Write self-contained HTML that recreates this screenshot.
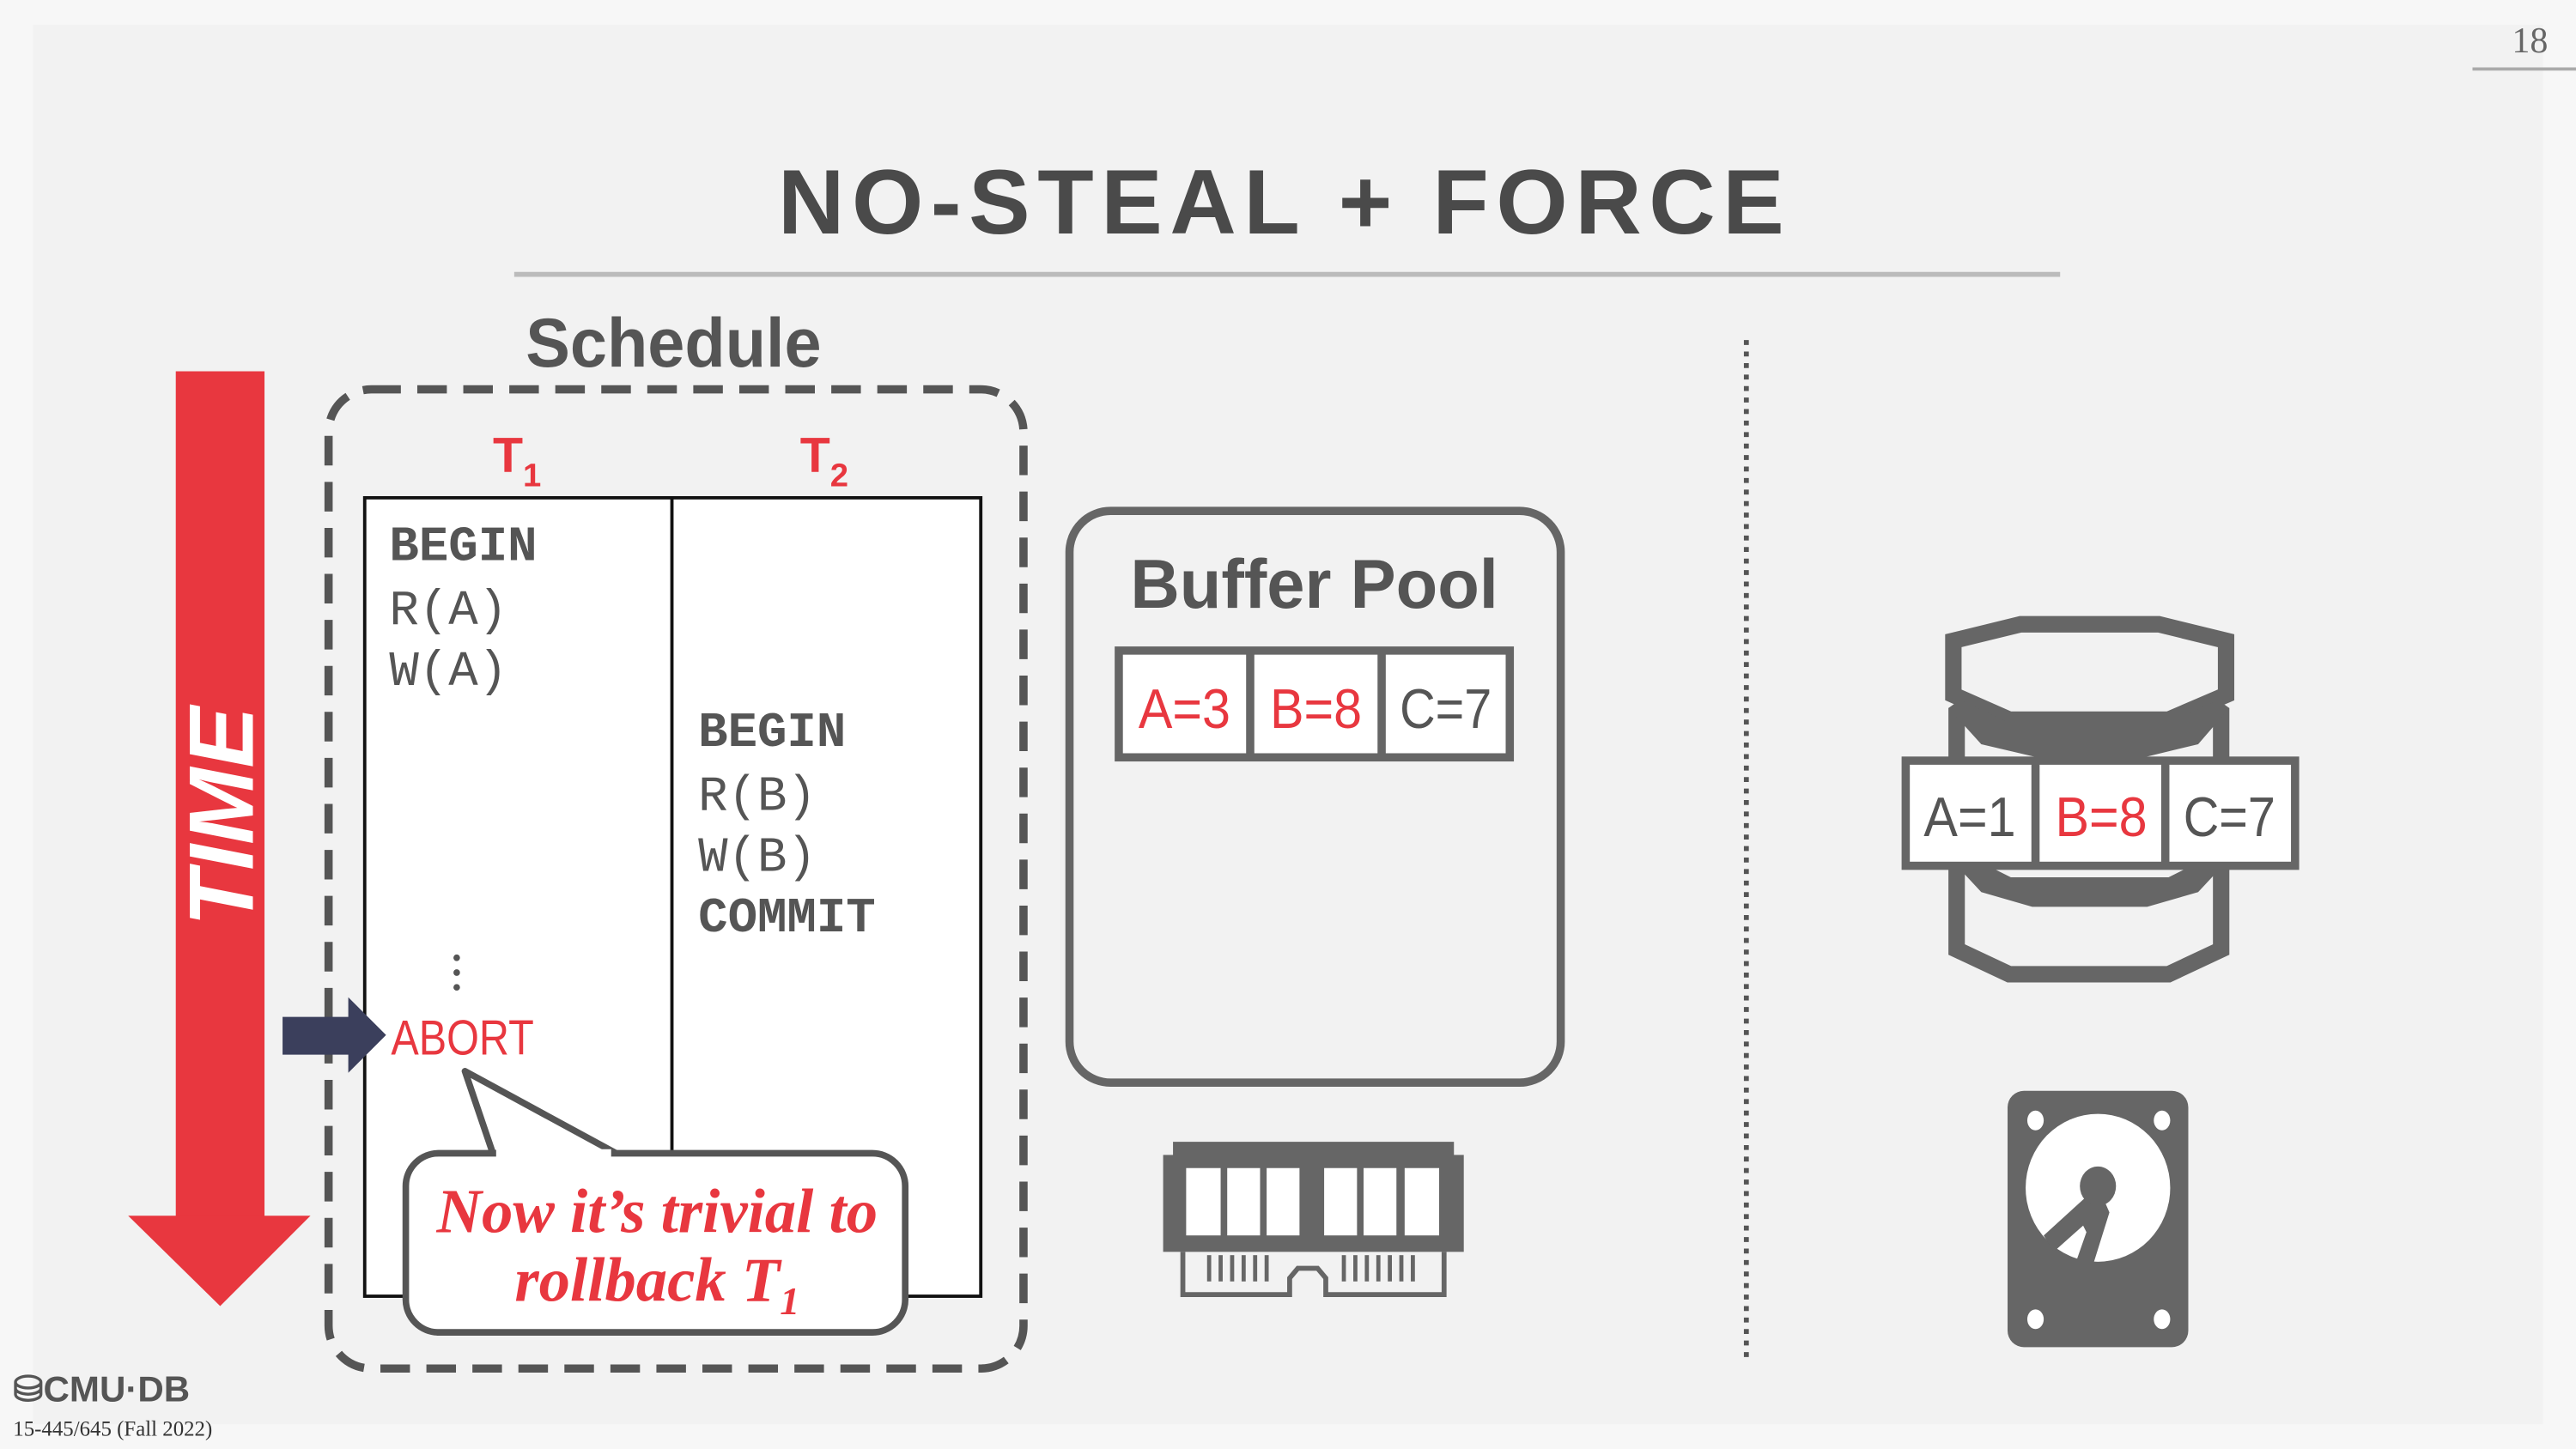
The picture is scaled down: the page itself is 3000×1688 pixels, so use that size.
<!DOCTYPE html>
<html><head><meta charset="utf-8"><style>
html,body{margin:0;padding:0;background:#f2f2f2;}
svg{display:block;}
</style></head><body>
<svg width="3000" height="1688" viewBox="0 0 1568 882" preserveAspectRatio="none" xmlns="http://www.w3.org/2000/svg">
<rect x="0" y="0" width="1568" height="882" fill="#f7f7f7"/>
<rect x="20" y="15" width="1528" height="852" fill="#f2f2f2"/>
<text x="1540" y="32" font-family="Liberation Serif, serif" font-size="22" fill="#666" text-anchor="middle">18</text>
<line x1="1505" y1="42" x2="1568" y2="42" stroke="#aaa" stroke-width="2"/>
<text x="782" y="142" font-family="Liberation Sans, sans-serif" font-weight="bold" font-size="56" letter-spacing="4.5" fill="#4a4a4a" text-anchor="middle">NO-STEAL + FORCE</text>
<line x1="313" y1="167" x2="1254" y2="167" stroke="#bbb" stroke-width="3"/>
<text x="320" y="223" font-family="Liberation Sans, sans-serif" font-weight="bold" font-size="42" fill="#555" textLength="180" lengthAdjust="spacingAndGlyphs">Schedule</text>
<rect x="200" y="237" width="423" height="596" rx="26" fill="none" stroke="#555" stroke-width="5" stroke-dasharray="18 10"/>
<text x="300" y="287" font-family="Liberation Sans, sans-serif" font-weight="bold" font-size="30" fill="#e8373f">T<tspan font-size="20" dy="9">1</tspan></text>
<text x="487" y="287" font-family="Liberation Sans, sans-serif" font-weight="bold" font-size="30" fill="#e8373f">T<tspan font-size="20" dy="9">2</tspan></text>
<rect x="222" y="303" width="375" height="486" fill="#fff" stroke="#111" stroke-width="2"/>
<line x1="409" y1="303" x2="409" y2="789" stroke="#111" stroke-width="2"/>
<g font-family="Liberation Mono, monospace" font-size="30" fill="#555">
<text x="237" y="341" font-weight="bold">BEGIN</text>
<text x="237" y="380">R(A)</text>
<text x="237" y="417">W(A)</text>
<text x="425" y="454" font-weight="bold">BEGIN</text>
<text x="425" y="493">R(B)</text>
<text x="425" y="530">W(B)</text>
<text x="425" y="567" font-weight="bold">COMMIT</text>
</g>
<g fill="#555"><circle cx="278" cy="583" r="2"/><circle cx="278" cy="592" r="2"/><circle cx="278" cy="601" r="2"/></g>
<text x="238" y="642" font-family="Liberation Sans, sans-serif" font-size="30" fill="#e8373f" textLength="87" lengthAdjust="spacingAndGlyphs">ABORT</text>
<polygon points="172,619 212,619 212,607 235,630 212,653 212,642 172,642" fill="#3b3f5c"/>
<path d="M283,652 L375,702 L300,702 Z" fill="#fff" stroke="#555" stroke-width="4" stroke-linejoin="round"/>
<rect x="247" y="702" width="304" height="109" rx="20" fill="#fff" stroke="#555" stroke-width="4"/>
<line x1="302" y1="702" x2="372" y2="702" stroke="#fff" stroke-width="5"/>
<g font-family="Liberation Serif, serif" font-style="italic" font-weight="bold" font-size="38" fill="#e8373f" text-anchor="middle">
<text x="400" y="750">Now it’s trivial to</text>
<text x="400" y="792">rollback T<tspan font-size="24" dy="8">1</tspan></text>
</g>
<rect x="107" y="226" width="54" height="516" fill="#e8373f"/>
<polygon points="78,740 189,740 134,795" fill="#e8373f"/>
<text transform="translate(154,497) rotate(-90)" font-family="Liberation Sans, sans-serif" font-style="italic" font-weight="bold" font-size="56" fill="#fff" text-anchor="middle">TIME</text>
<rect x="651" y="311" width="299" height="348" rx="25" fill="#f2f2f2" stroke="#666" stroke-width="5"/>
<text x="800" y="370" font-family="Liberation Sans, sans-serif" font-weight="bold" font-size="42" fill="#555" text-anchor="middle" textLength="224" lengthAdjust="spacingAndGlyphs">Buffer Pool</text>
<rect x="681" y="396" width="238" height="65" fill="#fff" stroke="#666" stroke-width="5"/>
<line x1="761" y1="396" x2="761" y2="461" stroke="#666" stroke-width="5"/>
<line x1="841" y1="396" x2="841" y2="461" stroke="#666" stroke-width="5"/>
<g font-family="Liberation Sans, sans-serif" font-size="34" text-anchor="middle">
<text x="721" y="443" fill="#e8373f" textLength="56" lengthAdjust="spacingAndGlyphs">A=3</text>
<text x="801" y="443" fill="#e8373f" textLength="56" lengthAdjust="spacingAndGlyphs">B=8</text>
<text x="880" y="443" fill="#555" textLength="56" lengthAdjust="spacingAndGlyphs">C=7</text>
</g>
<g fill="#666">
<rect x="714" y="695" width="171" height="10"/>
<rect x="708" y="703" width="183" height="59"/>
</g>
<g fill="#fff">
<rect x="722" y="711" width="21" height="41"/><rect x="747" y="711" width="20" height="41"/><rect x="771" y="711" width="20" height="41"/>
<rect x="806" y="711" width="20" height="41"/><rect x="830" y="711" width="20" height="41"/><rect x="855" y="711" width="21" height="41"/>
</g>
<path d="M720,762 V788 H785 V778 L790,772 H802 L807,778 V788 H879 V762" fill="none" stroke="#666" stroke-width="3"/>
<g stroke="#666" stroke-width="2.5">
<line x1="736" y1="764" x2="736" y2="780"/><line x1="743" y1="764" x2="743" y2="780"/><line x1="750" y1="764" x2="750" y2="780"/><line x1="757" y1="764" x2="757" y2="780"/><line x1="764" y1="764" x2="764" y2="780"/><line x1="771" y1="764" x2="771" y2="780"/>
<line x1="818" y1="764" x2="818" y2="780"/><line x1="825" y1="764" x2="825" y2="780"/><line x1="832" y1="764" x2="832" y2="780"/><line x1="839" y1="764" x2="839" y2="780"/><line x1="846" y1="764" x2="846" y2="780"/><line x1="853" y1="764" x2="853" y2="780"/><line x1="860" y1="764" x2="860" y2="780"/>
</g>
<line x1="1063" y1="207" x2="1063" y2="830" stroke="#555" stroke-width="3" stroke-dasharray="3 4"/>
<g fill="none" stroke="#666" stroke-width="10" stroke-linejoin="miter">
<polygon points="1189,390 1230,380 1314,380 1355,390 1355,423 1320,438 1223,438 1189,423"/>
<polyline points="1191,431 1191,578 1223,593 1320,593 1352,578 1352,431"/>
</g>
<polygon points="1186,431 1193,426 1223,440 1321,440 1350,426 1357,431 1338,453 1305,461 1240,461 1206,453" fill="#666"/>
<polygon points="1192,528 1210,527 1224,534 1320,534 1334,527 1352,528 1338,543 1307,552 1237,552 1206,543" fill="#666"/>
<rect x="1160" y="463" width="237" height="64" fill="#fff" stroke="#666" stroke-width="5"/>
<line x1="1239" y1="463" x2="1239" y2="527" stroke="#666" stroke-width="5"/>
<line x1="1318" y1="463" x2="1318" y2="527" stroke="#666" stroke-width="5"/>
<g font-family="Liberation Sans, sans-serif" font-size="34" text-anchor="middle">
<text x="1199" y="509" fill="#555" textLength="56" lengthAdjust="spacingAndGlyphs">A=1</text>
<text x="1279" y="509" fill="#e8373f" textLength="56" lengthAdjust="spacingAndGlyphs">B=8</text>
<text x="1357" y="509" fill="#555" textLength="56" lengthAdjust="spacingAndGlyphs">C=7</text>
</g>
<rect x="1222" y="664" width="110" height="156" rx="10" fill="#666"/>
<g fill="#fff">
<ellipse cx="1239" cy="682" rx="5" ry="6"/><ellipse cx="1316" cy="682" rx="5" ry="6"/>
<ellipse cx="1239" cy="803" rx="5" ry="6"/><ellipse cx="1316" cy="803" rx="5" ry="6"/>
<ellipse cx="1277" cy="723" rx="44" ry="45"/>
</g>
<polygon points="1277,722 1244,752 1250,762 1268,746 1270,750 1263,770 1274,770 1284,738" fill="#666"/>
<ellipse cx="1277" cy="722" rx="11" ry="12" fill="#666"/>
<text x="8" y="853" font-family="Liberation Sans, sans-serif" font-weight="bold" font-size="22" fill="#555">⛁CMU·DB</text>
<text x="8" y="874" font-family="Liberation Serif, serif" font-size="13" fill="#333">15-445/645 (Fall 2022)</text>
</svg>
</body></html>
